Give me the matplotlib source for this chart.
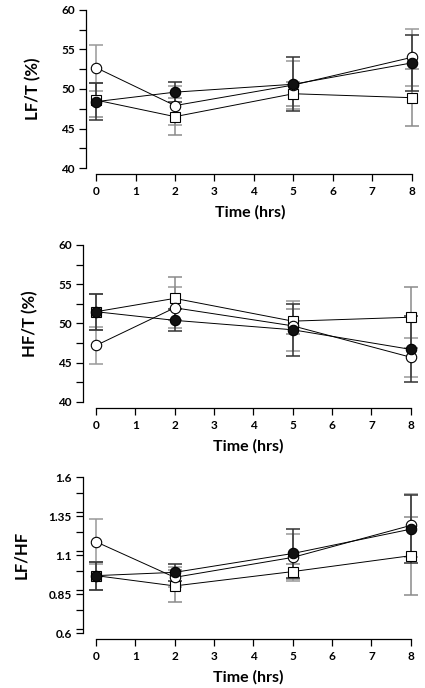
import numpy as np
import matplotlib; matplotlib.use("Agg")
import matplotlib.pyplot as plt
from matplotlib.ticker import MultipleLocator

plt.rcParams["font.family"] = ["Lato", "DejaVu Sans"]

time = [0, 2, 5, 8]

# LF/T (%)
lft_open = [52.7, 47.9, 50.5, 54.0]
lft_open_err = [2.9, 2.5, 3.0, 3.6]
lft_fill = [48.4, 49.6, 50.6, 53.3]
lft_fill_err = [2.3, 1.3, 3.4, 3.5]
lft_sq = [48.6, 46.5, 49.4, 48.9]
lft_sq_err = [2.2, 2.3, 1.5, 3.6]

# HF/T (%)
hft_open = [47.2, 52.0, 49.7, 45.7]
hft_open_err = [2.4, 2.6, 3.2, 2.5]
hft_fill = [51.5, 50.4, 49.2, 46.7]
hft_fill_err = [2.3, 1.4, 3.3, 4.2]
hft_sq = [51.5, 53.2, 50.3, 50.8]
hft_sq_err = [2.3, 2.7, 1.6, 3.9]

# LF/HF
lfhf_open = [1.185, 0.957, 1.085, 1.29]
lfhf_open_err = [0.145, 0.065, 0.15, 0.2]
lfhf_fill = [0.968, 0.989, 1.11, 1.266]
lfhf_fill_err = [0.09, 0.054, 0.156, 0.22]
lfhf_sq = [0.968, 0.902, 0.994, 1.096]
lfhf_sq_err = [0.09, 0.10, 0.05, 0.25]

panels = [
    dict(rect=[0.2024, 0.7558, 0.771, 0.2297], xlim=(-0.254, 8.05), ylim=(40, 60), step=5,
         ylabel="LF/T (%)", data=(lft_open, lft_open_err, lft_fill, lft_fill_err, lft_sq, lft_sq_err),
         ticks=[40, 45, 50, 55, 60], labels=["40", "45", "50", "55", "60"]),
    dict(rect=[0.1953, 0.4157, 0.776, 0.2282], xlim=(-0.33, 8.05), ylim=(40, 60), step=5,
         ylabel="HF/T (%)", data=(hft_open, hft_open_err, hft_fill, hft_fill_err, hft_sq, hft_sq_err),
         ticks=[40, 45, 50, 55, 60], labels=["40", "45", "50", "55", "60"]),
    dict(rect=[0.1953, 0.0799, 0.776, 0.2267], xlim=(-0.33, 8.05), ylim=(0.6, 1.6), step=0.25,
         ylabel="LF/HF", data=(lfhf_open, lfhf_open_err, lfhf_fill, lfhf_fill_err, lfhf_sq, lfhf_sq_err),
         ticks=[0.6, 0.85, 1.1, 1.35, 1.6], labels=["0.6", "0.85", "1.1", "1.35", "1.6"]),
]

fig = plt.figure(figsize=(4.25, 6.88), dpi=100)

for p in panels:
    ax = fig.add_axes(p["rect"])
    o, oe, f, fe, s, se = p["data"]
    ekw = dict(capsize=5, elinewidth=1.1, capthick=1.1, ls="none", clip_on=False, zorder=2)
    ax.errorbar(time, o, yerr=oe, ecolor="#999999", **ekw)
    ax.errorbar(time, s, yerr=se, ecolor="#8a8a8a", **ekw)
    ax.errorbar(time, f, yerr=fe, ecolor="#333333", **ekw)
    lkw = dict(color="black", lw=0.7, clip_on=False, zorder=3)
    ax.plot(time, s, marker="s", ms=7.5, mfc="white", mec="black", mew=0.8, **lkw)
    ax.plot(time, o, marker="o", ms=7.5, mfc="white", mec="black", mew=0.8, **lkw)
    ax.plot(time, f, marker="o", ms=7.5, mfc="#111111", mec="black", mew=0.8, **lkw)

    ax.set_xlim(*p["xlim"])
    ax.set_ylim(*p["ylim"])
    ax.spines["top"].set_visible(False)
    ax.spines["right"].set_visible(False)
    ax.spines["bottom"].set_position(("outward", 4))
    ax.spines["bottom"].set_bounds(0, 8)
    for sp in ("left", "bottom"):
        ax.spines[sp].set_linewidth(0.9)
    ax.set_xticks(range(9))
    ax.set_xticklabels([str(i) for i in range(9)])
    ax.set_yticks(p["ticks"])
    ax.set_yticklabels(p["labels"])
    ax.yaxis.set_minor_locator(MultipleLocator(p["step"] / 2))
    ax.tick_params(axis="y", which="both", direction="out", length=5, width=0.9, labelsize=8.5, pad=3)
    ax.tick_params(axis="x", direction="out", length=5, width=0.9, labelsize=8.5, pad=4)
    for lab in ax.get_xticklabels() + ax.get_yticklabels():
        lab.set_fontweight("bold")
    ax.set_xlabel("Time (hrs)", fontsize=11.5, fontweight="bold", labelpad=6)
    ax.set_ylabel(p["ylabel"], fontsize=12, fontweight="bold", labelpad=14)

fig.savefig("out.png", dpi=100)
